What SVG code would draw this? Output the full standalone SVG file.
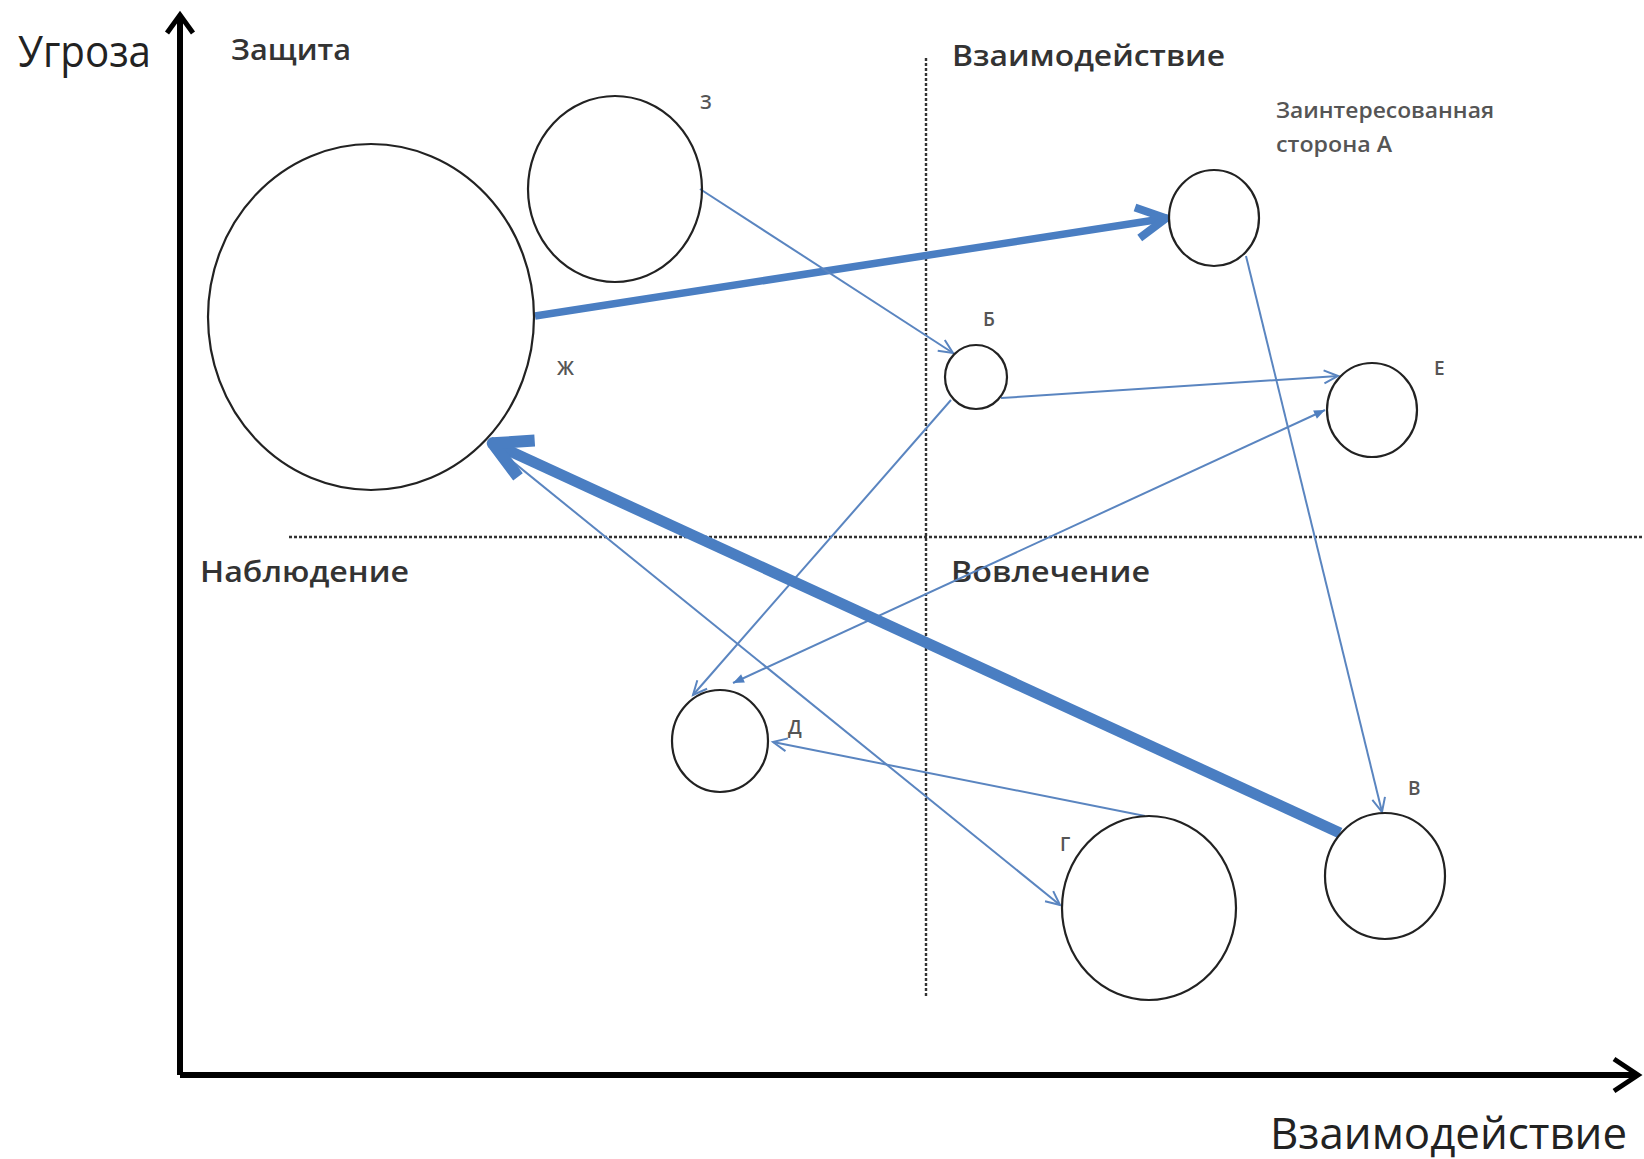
<svg xmlns="http://www.w3.org/2000/svg" width="1644" height="1159" viewBox="0 0 1644 1159">
<style>
.q{font-family:"Open Sans","Liberation Sans",sans-serif;font-weight:600;font-size:29px;fill:#333}
.ax{font-family:"Open Sans","Liberation Sans",sans-serif;font-size:44px;fill:#222}
.lb{font-family:"Open Sans","Liberation Sans",sans-serif;font-weight:600;font-size:19px;fill:#555}
.sm{font-family:"Open Sans","Liberation Sans",sans-serif;font-weight:600;font-size:22px;fill:#555}
.node{fill:none;stroke:#222;stroke-width:2.2}
.thin{fill:none;stroke:#5a85c0;stroke-width:2}
.dot{fill:none;stroke:#333;stroke-width:2.4;stroke-dasharray:3 2}
</style>
<defs>
<marker id="vThin" viewBox="-16 -10 20 20" refX="0" refY="0" markerWidth="20" markerHeight="20" markerUnits="userSpaceOnUse" orient="auto">
<path d="M-14,-6.5 L0,0 L-14,6.5" fill="none" stroke="#5a85c0" stroke-width="2"/>
</marker>
<marker id="triThin" viewBox="-14 -8 16 16" refX="0" refY="0" markerWidth="16" markerHeight="16" markerUnits="userSpaceOnUse" orient="auto-start-reverse">
<path d="M-11,-4.5 L0,0 L-11,4.5 Z" fill="#4f7fc0"/>
</marker>
<marker id="vThick1" viewBox="-40 -24 46 48" refX="0" refY="0" markerWidth="46" markerHeight="48" markerUnits="userSpaceOnUse" orient="auto">
<path d="M-31,-15.5 L-2,0 L-31,15.5" fill="none" stroke="#4a7ec2" stroke-width="8" stroke-linejoin="round"/>
</marker>
<marker id="vThick2" viewBox="-50 -30 56 60" refX="0" refY="0" markerWidth="56" markerHeight="60" markerUnits="userSpaceOnUse" orient="auto">
<path d="M-40,-20 L-3,0 L-40,20" fill="none" stroke="#4a7ec2" stroke-width="12" stroke-linejoin="round"/>
</marker>
</defs>
<rect width="1644" height="1159" fill="#fff"/>

<g id="axes">
<path d="M180,1075 L180,17" fill="none" stroke="#000" stroke-width="6"/>
<path d="M180,1075 L1636,1075" fill="none" stroke="#000" stroke-width="6"/>
<path d="M167,33 L180,15 L193,33" fill="none" stroke="#000" stroke-width="5"/>
<path d="M1614,1059 L1638,1075 L1614,1091" fill="none" stroke="#000" stroke-width="5"/>
<text class="ax" x="18" y="67" textLength="133" lengthAdjust="spacingAndGlyphs">Угроза</text>
<text class="ax" x="1270" y="1149" textLength="357" lengthAdjust="spacingAndGlyphs">Взаимодействие</text>
</g>

<g id="quadrants">
<line class="dot" x1="926" y1="58" x2="926" y2="996"/>
<line class="dot" x1="289" y1="537" x2="1644" y2="537"/>
<text class="q" x="231" y="60" textLength="120" lengthAdjust="spacingAndGlyphs">Защита</text>
<text class="q" x="952" y="66" textLength="273" lengthAdjust="spacingAndGlyphs">Взаимодействие</text>
<text class="q" x="200" y="582" textLength="209" lengthAdjust="spacingAndGlyphs">Наблюдение</text>
<text class="q" x="951" y="582" textLength="199" lengthAdjust="spacingAndGlyphs">Вовлечение</text>
</g>

<g id="connectors">
<line x1="535" y1="316" x2="1168" y2="218" stroke="#4a7ec2" stroke-width="7.5" marker-end="url(#vThick1)"/>
<line x1="700" y1="189" x2="953" y2="353" class="thin" marker-end="url(#vThin)"/>
<line x1="1001" y1="398" x2="1338" y2="376" class="thin" marker-end="url(#vThin)"/>
<line x1="951" y1="400" x2="693" y2="695" class="thin" marker-end="url(#vThin)"/>
<line x1="733" y1="683" x2="1325" y2="410" class="thin" marker-start="url(#triThin)" marker-end="url(#triThin)"/>
<line x1="497" y1="449" x2="1060" y2="905" class="thin" marker-end="url(#vThin)"/>
<line x1="1145" y1="816" x2="773" y2="742" class="thin" marker-end="url(#vThin)"/>
<line x1="1246" y1="256" x2="1382" y2="812" class="thin" marker-end="url(#vThin)"/>
<line x1="1340" y1="833" x2="490" y2="442" stroke="#4a7ec2" stroke-width="11" marker-end="url(#vThick2)"/>
</g>

<g id="node-zh">
<ellipse class="node" cx="371" cy="317" rx="163" ry="173"/>
<text class="lb" x="557" y="375">Ж</text>
</g>
<g id="node-z">
<ellipse class="node" cx="615" cy="189" rx="87" ry="93"/>
<text class="lb" x="700" y="109">З</text>
</g>
<g id="node-a">
<ellipse class="node" cx="1214" cy="218" rx="45" ry="48"/>
<text class="sm" x="1276" y="118" textLength="218" lengthAdjust="spacingAndGlyphs">Заинтересованная</text>
<text class="sm" x="1276" y="152" textLength="116" lengthAdjust="spacingAndGlyphs">сторона А</text>
</g>
<g id="node-b">
<ellipse class="node" cx="976" cy="377" rx="31" ry="32"/>
<text class="lb" x="983" y="326">Б</text>
</g>
<g id="node-e">
<ellipse class="node" cx="1372" cy="410" rx="45" ry="47"/>
<text class="lb" x="1434" y="375">Е</text>
</g>
<g id="node-d">
<ellipse class="node" cx="720" cy="741" rx="48" ry="51"/>
<text class="lb" x="788" y="734">Д</text>
</g>
<g id="node-g">
<ellipse class="node" cx="1149" cy="908" rx="87" ry="92"/>
<text class="lb" x="1060" y="851">Г</text>
</g>
<g id="node-v">
<ellipse class="node" cx="1385" cy="876" rx="60" ry="63"/>
<text class="lb" x="1408" y="795">В</text>
</g>
</svg>
